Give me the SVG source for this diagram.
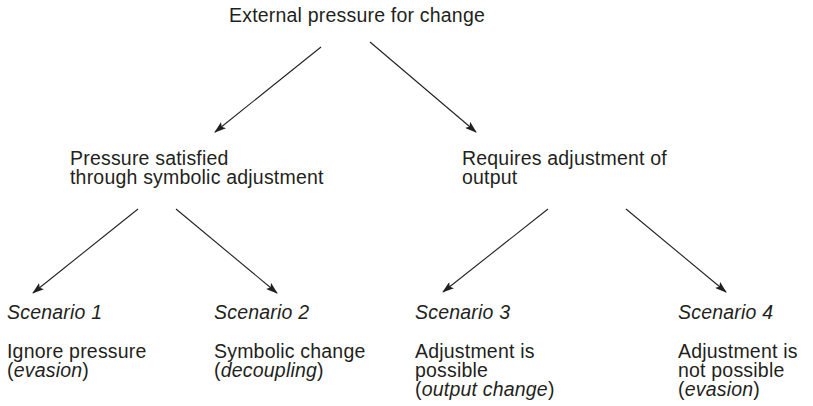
<svg xmlns="http://www.w3.org/2000/svg" width="813" height="406" viewBox="0 0 813 406">
  <style>
    text { font-family: "Liberation Sans", Arial, sans-serif; font-size: 19.5px; letter-spacing: 0.2px; fill: #231f20; }
    .it { font-style: italic; }
    .edge { stroke: #231f20; stroke-width: 1.1; fill: none; marker-end: url(#arrow); }
  </style>
  <defs>
    <marker id="arrow" viewBox="0 0 12 8" refX="11" refY="4" markerWidth="12" markerHeight="8" markerUnits="userSpaceOnUse" orient="auto">
      <path d="M0,0 L12,4 L0,8 L2.5,4 Z" fill="#231f20"/>
    </marker>
  </defs>
  <rect width="813" height="406" fill="#ffffff"/>

  <g id="root">
    <text x="229" y="22">External pressure for change</text>
  </g>

  <g id="symbolic">
    <text x="70" y="165">Pressure satisfied</text>
    <text x="70" y="184">through symbolic adjustment</text>
  </g>

  <g id="output">
    <text x="462" y="165">Requires adjustment of</text>
    <text x="462" y="184">output</text>
  </g>

  <g id="scenario1">
    <text class="it" x="7" y="319">Scenario 1</text>
    <text x="7" y="358">Ignore pressure</text>
    <text x="7" y="377">(<tspan class="it">evasion</tspan>)</text>
  </g>

  <g id="scenario2">
    <text class="it" x="214" y="319">Scenario 2</text>
    <text x="214" y="358">Symbolic change</text>
    <text x="214" y="377">(<tspan class="it">decoupling</tspan>)</text>
  </g>

  <g id="scenario3">
    <text class="it" x="415" y="319">Scenario 3</text>
    <text x="415" y="358">Adjustment is</text>
    <text x="415" y="377">possible</text>
    <text x="415" y="396">(<tspan class="it">output change</tspan>)</text>
  </g>

  <g id="scenario4">
    <text class="it" x="678" y="319">Scenario 4</text>
    <text x="678" y="358">Adjustment is</text>
    <text x="678" y="377">not possible</text>
    <text x="678" y="396">(<tspan class="it">evasion</tspan>)</text>
  </g>

  <g id="connectors">
    <line class="edge" x1="321" y1="47" x2="215" y2="132"/>
    <line class="edge" x1="370" y1="42" x2="476" y2="132"/>
    <line class="edge" x1="138" y1="209" x2="33" y2="293"/>
    <line class="edge" x1="176" y1="209" x2="277" y2="293"/>
    <line class="edge" x1="548" y1="209" x2="443" y2="292"/>
    <line class="edge" x1="626" y1="209" x2="726" y2="292"/>
  </g>
</svg>
